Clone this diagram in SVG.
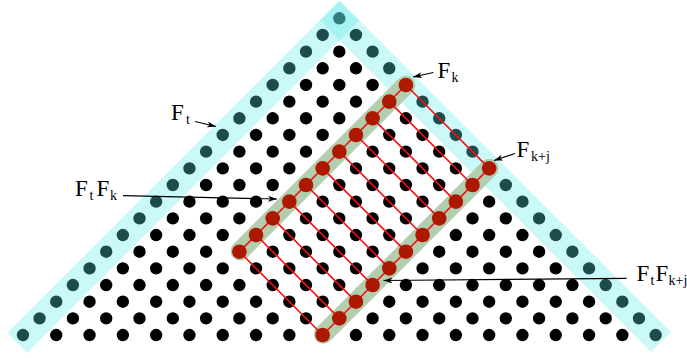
<svg xmlns="http://www.w3.org/2000/svg" width="687" height="358" viewBox="0 0 687 358">
<style>
.row{stroke:#000;stroke-width:12.4;stroke-linecap:round;stroke-dasharray:0 33.3;fill:none}
.band{fill:rgb(94,233,233);fill-opacity:0.32}
.gband{stroke:#b3cdaf;stroke-width:19;stroke-linecap:round;fill:none}
.rl{stroke:#f21010;stroke-width:1.6;fill:none}
.rd{fill:#ad1800}
.lbl{font-family:"Liberation Serif","Times New Roman",serif;font-size:23px;fill:#000}
.sub{font-size:14px}
.arr{stroke:#000;stroke-width:1.2;fill:none;marker-end:url(#ah)}
</style>
<defs>
<marker id="ah" markerUnits="userSpaceOnUse" markerWidth="10" markerHeight="7" refX="9" refY="3" orient="auto">
<path d="M0,0 L9,3 L0,6 L2.5,3 z" fill="#000"/>
</marker>
</defs>
<rect width="687" height="358" fill="#fff"/>
<g id="dots">
<circle cx="339.3" cy="18.3" r="6.2"/>
<line class="row" x1="322.65" y1="34.97" x2="356.15" y2="34.97"/>
<line class="row" x1="306" y1="51.64" x2="372.8" y2="51.64"/>
<line class="row" x1="289.35" y1="68.31" x2="389.45" y2="68.31"/>
<line class="row" x1="272.7" y1="84.98" x2="406.1" y2="84.98"/>
<line class="row" x1="256.05" y1="101.65" x2="422.75" y2="101.65"/>
<line class="row" x1="239.4" y1="118.32" x2="439.4" y2="118.32"/>
<line class="row" x1="222.75" y1="134.99" x2="456.05" y2="134.99"/>
<line class="row" x1="206.1" y1="151.66" x2="472.7" y2="151.66"/>
<line class="row" x1="189.45" y1="168.33" x2="489.35" y2="168.33"/>
<line class="row" x1="172.8" y1="185" x2="506" y2="185"/>
<line class="row" x1="156.15" y1="201.67" x2="522.65" y2="201.67"/>
<line class="row" x1="139.5" y1="218.34" x2="539.3" y2="218.34"/>
<line class="row" x1="122.85" y1="235.01" x2="555.95" y2="235.01"/>
<line class="row" x1="106.2" y1="251.68" x2="572.6" y2="251.68"/>
<line class="row" x1="89.55" y1="268.35" x2="589.25" y2="268.35"/>
<line class="row" x1="72.9" y1="285.02" x2="605.9" y2="285.02"/>
<line class="row" x1="56.25" y1="301.69" x2="622.55" y2="301.69"/>
<line class="row" x1="39.6" y1="318.36" x2="639.2" y2="318.36"/>
<line class="row" x1="22.95" y1="335.03" x2="655.85" y2="335.03"/>
</g>
<g id="bands">
<polygon id="band-left" class="band" points="339.5,0.7 359.3,20.5 27,352.8 7.2,333"/>
<polygon id="band-right" class="band" points="339.5,0.7 319.7,20.5 651,351.8 670.8,332"/>
</g>
<g id="red-grid">
<line class="gband" x1="405.9" y1="84.98" x2="240.1" y2="250.98"/>
<line class="gband" x1="489.15" y1="168.33" x2="323.35" y2="334.33"/>
<g id="red-lines">
<line class="rl" x1="405.9" y1="84.98" x2="239.4" y2="251.68"/>
<line class="rl" x1="489.15" y1="168.33" x2="322.65" y2="335.03"/>
<line class="rl" x1="405.9" y1="84.98" x2="489.15" y2="168.33"/>
<line class="rl" x1="389.25" y1="101.65" x2="472.5" y2="185"/>
<line class="rl" x1="372.6" y1="118.32" x2="455.85" y2="201.67"/>
<line class="rl" x1="355.95" y1="134.99" x2="439.2" y2="218.34"/>
<line class="rl" x1="339.3" y1="151.66" x2="422.55" y2="235.01"/>
<line class="rl" x1="322.65" y1="168.33" x2="405.9" y2="251.68"/>
<line class="rl" x1="306" y1="185" x2="389.25" y2="268.35"/>
<line class="rl" x1="289.35" y1="201.67" x2="372.6" y2="285.02"/>
<line class="rl" x1="272.7" y1="218.34" x2="355.95" y2="301.69"/>
<line class="rl" x1="256.05" y1="235.01" x2="339.3" y2="318.36"/>
<line class="rl" x1="239.4" y1="251.68" x2="322.65" y2="335.03"/>
</g>
<g id="red-dots" class="rd">
<circle cx="405.9" cy="84.98" r="7.3"/>
<circle cx="389.25" cy="101.65" r="7.3"/>
<circle cx="372.6" cy="118.32" r="7.3"/>
<circle cx="355.95" cy="134.99" r="7.3"/>
<circle cx="339.3" cy="151.66" r="7.3"/>
<circle cx="322.65" cy="168.33" r="7.3"/>
<circle cx="306" cy="185" r="7.3"/>
<circle cx="289.35" cy="201.67" r="7.3"/>
<circle cx="272.7" cy="218.34" r="7.3"/>
<circle cx="256.05" cy="235.01" r="7.3"/>
<circle cx="239.4" cy="251.68" r="7.3"/>
<circle cx="489.15" cy="168.33" r="7.3"/>
<circle cx="472.5" cy="185" r="7.3"/>
<circle cx="455.85" cy="201.67" r="7.3"/>
<circle cx="439.2" cy="218.34" r="7.3"/>
<circle cx="422.55" cy="235.01" r="7.3"/>
<circle cx="405.9" cy="251.68" r="7.3"/>
<circle cx="389.25" cy="268.35" r="7.3"/>
<circle cx="372.6" cy="285.02" r="7.3"/>
<circle cx="355.95" cy="301.69" r="7.3"/>
<circle cx="339.3" cy="318.36" r="7.3"/>
<circle cx="322.65" cy="335.03" r="7.3"/>
</g>
</g>
<g id="connectors">
<line class="arr" x1="433.5" y1="72.5" x2="413" y2="77"/>
<line class="arr" x1="195" y1="121.5" x2="216" y2="126.5"/>
<line class="arr" x1="123" y1="195.7" x2="277" y2="199"/>
<line class="arr" x1="515" y1="153.5" x2="494" y2="160.5"/>
<line class="arr" x1="626.5" y1="278.3" x2="383.5" y2="280.5"/>
</g>
<g id="label-Fk"><text class="lbl" x="437.5" y="78">F<tspan class="sub" x="451.5" y="81.5">k</tspan></text></g>
<g id="label-Ft"><text class="lbl" x="171" y="120">F<tspan class="sub" x="186" y="124">t</tspan></text></g>
<g id="label-FtFk"><text class="lbl" x="75" y="195.5">F<tspan class="sub" x="89.5" y="199.5">t</tspan><tspan x="96.5" y="195.5">F</tspan><tspan class="sub" x="110" y="199.5">k</tspan></text></g>
<g id="label-Fkj"><text class="lbl" x="516.5" y="157">F<tspan class="sub" x="531" y="161">k+j</tspan></text></g>
<g id="label-FtFkj"><text class="lbl" x="636.5" y="280.5">F<tspan class="sub" x="650.5" y="284.5">t</tspan><tspan x="655.5" y="280.5">F</tspan><tspan class="sub" x="668.5" y="284.5">k+j</tspan></text></g>
</svg>
